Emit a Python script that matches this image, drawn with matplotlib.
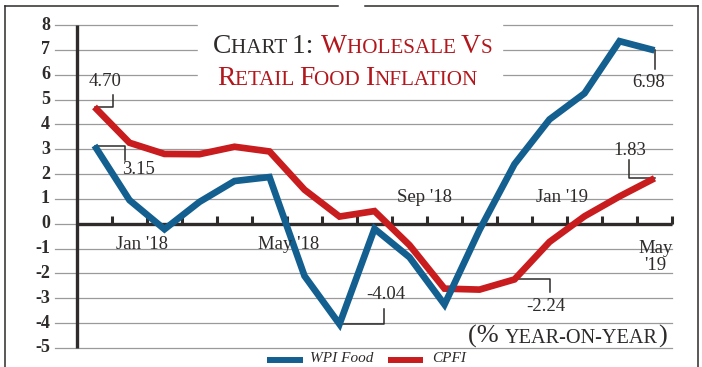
import matplotlib
matplotlib.use("Agg")
import matplotlib.pyplot as plt
from matplotlib.lines import Line2D

W, H = 702, 367

months = ["Jan '18", "Feb '18", "Mar '18", "Apr '18", "May '18", "Jun '18",
          "Jul '18", "Aug '18", "Sep '18", "Oct '18", "Nov '18", "Dec '18",
          "Jan '19", "Feb '19", "Mar '19", "Apr '19", "May '19"]
wpi_food = [3.15, 0.95, -0.22, 0.88, 1.72, 1.88, -2.10, -4.04, -0.20, -1.35,
            -3.25, -0.25, 2.40, 4.20, 5.25, 7.35, 6.98]
cpfi = [4.70, 3.26, 2.81, 2.80, 3.10, 2.91, 1.37, 0.29, 0.51, -0.86,
        -2.61, -2.65, -2.24, -0.73, 0.30, 1.10, 1.83]
tick_labels = ["Jan '18", "May '18", "Sep '18", "Jan '19", "May\n'19"]
y_ticks = list(range(-5, 9))

BLUE = "#135f8f"
RED = "#c81c1e"
DARK = "#2e2b2a"
TRED = "#b3161c"
SERIF = "Liberation Serif"

fig = plt.figure(figsize=(W / 100, H / 100), dpi=100)
ax = fig.add_axes([77 / W, 1 - 348 / H, 595 / W, 323 / H])
ax.set_xlim(-0.5, 16.5)
ax.set_ylim(-5, 8)
ax.axis("off")

# grid lines, reaching left past the axis
gt = ax.get_yaxis_transform()
for v in y_ticks:
    ax.text(-27 / 595, v, str(v), transform=gt, ha="right", va="center",
            fontsize=13, family=SERIF, color=DARK, fontweight="bold")
    if v == 0:
        continue
    ax.plot([-22 / 595, 1], [v, v], color="#9a9a9a", lw=0.9, transform=gt,
            clip_on=False, zorder=1)

# axis lines
ax.plot([-0.5, -0.5], [-5, 8], color=DARK, lw=2.4, zorder=3, clip_on=False,
        solid_capstyle="butt")
ax.plot([-22 / 595, 1], [0, 0], color="#9a9a9a", lw=0.9, transform=gt,
        clip_on=False, zorder=1)
ax.plot([-0.5, 16.5], [0, 0], color=DARK, lw=2.4, zorder=3, clip_on=False,
        solid_capstyle="butt")
for i in range(len(months)):
    ax.plot([i + 0.5, i + 0.5], [0, 0.3], color=DARK, lw=2.2, zorder=3,
            clip_on=False, solid_capstyle="butt")

xs = list(range(len(months)))
ax.plot(xs, cpfi, color=RED, lw=4.8, zorder=5, solid_joinstyle="miter",
        solid_capstyle="butt")
ax.plot(xs, wpi_food, color=BLUE, lw=4.8, zorder=6, solid_joinstyle="miter",
        solid_capstyle="butt")

# x labels
lab_pos = [(1.37, -0.84), (5.54, -0.84), (9.43, 1.04), (13.37, 1.04), (16.03, -1.35)]
for s, (lx, ly) in zip(tick_labels, lab_pos):
    ax.text(lx, ly, s, ha="center", va="center", fontsize=13.5, family=SERIF,
            color=DARK, linespacing=1.0, zorder=7)

# value callouts with elbow leaders
def callout(i, vals, path, txt_xy):
    px = [i] + [p[0] for p in path]
    py = [vals[i]] + [p[1] for p in path]
    ax.plot(px, py, color=DARK, lw=1.1, zorder=4)
    ax.text(txt_xy[0], txt_xy[1], "%.2f" % vals[i], ha="center", va="center",
            fontsize=13.5, family=SERIF, color=DARK, zorder=7)

callout(0, cpfi, [(0.54, 4.70), (0.54, 5.18)], (0.31, 5.72))
callout(0, wpi_food, [(0.86, 3.15), (0.86, 2.57)], (1.26, 2.17))
callout(7, wpi_food, [(8.26, -4.04), (8.26, -3.45)], (8.31, -2.85))
callout(12, cpfi, [(13.0, -2.24), (13.0, -2.73)], (12.89, -3.33))
callout(16, wpi_food, [(16, 6.22)], (15.83, 5.70))
callout(16, cpfi, [(15.26, 1.83), (15.26, 2.57)], (15.29, 2.93))

# title block covering grid
fig.patches.append(plt.Rectangle((198 / W, 1 - 92 / H), 304 / W, 72 / H,
                                 transform=fig.transFigure, color="white",
                                 zorder=2))
ax.set_zorder(1)

renderer = fig.canvas.get_renderer()

def smallcaps(x, y, parts, **kw):
    for s, size, color in parts:
        t = fig.text(x / W, 1 - y / H, s, fontsize=size, color=color,
                     family=SERIF, va="baseline", ha="left", zorder=10, **kw)
        x += t.get_window_extent(renderer).width
    return x

big, small = 19.8, 15.2
smallcaps(213, 53, [("C", big, DARK), ("HART ", small, DARK), ("1: ", big, DARK),
                    ("W", big, TRED), ("HOLESALE ", small, TRED),
                    ("V", big, TRED), ("S", small, TRED)])
smallcaps(217, 85, [("R", big, TRED), ("ETAIL ", small, TRED),
                    ("F", big, TRED), ("OOD ", small, TRED),
                    ("I", big, TRED), ("NFLATION", small, TRED)])
smallcaps(468, 343, [("(% ", 19, DARK), ("YEAR-ON-YEAR", 14.6, DARK),
                     (")", 19, DARK)])

# legend
for x0, x1, c, lab, tx in [(267, 303, BLUE, "WPI Food", 310),
                           (388, 423, RED, "CPFI", 432)]:
    fig.add_artist(Line2D([x0 / W, x1 / W], [1 - 360 / H] * 2, color=c, lw=4.3,
                          transform=fig.transFigure, solid_capstyle="butt"))
    fig.text(tx / W, 1 - 358.5 / H, lab, fontsize=11, family=SERIF,
             style="italic", color=DARK, va="center", ha="left")

# outer frame with a small gap at the top
for xx, yy in [([5, 5], [6, 367]), ([698, 698], [6, 367]),
               ([5, 338], [6, 6]), ([365, 698], [6, 6])]:
    fig.add_artist(Line2D([v / W for v in xx], [1 - v / H for v in yy],
                          color=DARK, lw=1.1, transform=fig.transFigure))

fig.savefig("out.png", dpi=100)
